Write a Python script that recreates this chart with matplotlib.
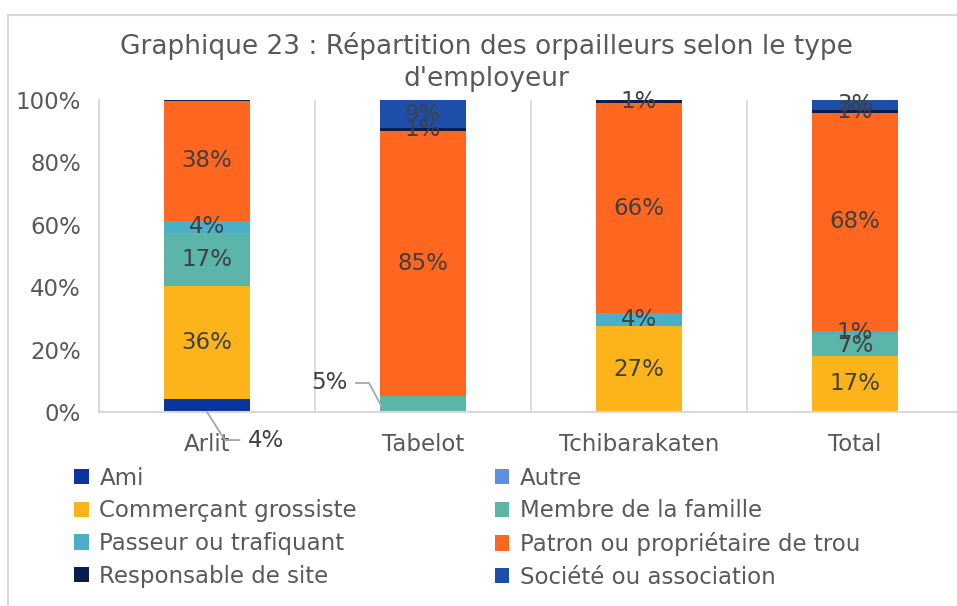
import numpy as np
import matplotlib
matplotlib.use("Agg")
import matplotlib.pyplot as plt
from matplotlib.patches import Rectangle

plt.rcParams['font.family'] = ['DejaVu Sans']

sites = ["Arlit", "Tabelot", "Tchibarakaten", "Total"]
series = ["Ami", "Autre", "Commerçant grossiste", "Membre de la famille",
          "Passeur ou trafiquant", "Patron ou propriétaire de trou",
          "Responsable de site", "Société ou association"]
ami = [4, 0, 0, 0.4]
autre = [0, 0, 0, 0]
commercant = [36, 0, 27, 17]
membre = [17, 5, 0, 7]
passeur = [4, 0, 4, 1]
patron = [38, 85, 66, 68]
responsable = [0.4, 1, 1, 1]
societe = [0, 9, 0, 3]
colors = ["#0A35A0", "#5B8FE0", "#FDB41A", "#5BB5A9",
          "#4AB0C8", "#FF661F", "#0B1D4D", "#1D4FAA"]

values = [ami, autre, commercant, membre, passeur, patron, responsable, societe]
totals = np.sum(np.array(values, dtype=float), axis=0)

FS = 16.5
fig = plt.figure(figsize=(9.57, 6.06), dpi=100)
fig.patches.append(Rectangle((0.008, -0.01), 1.0, 0.985, transform=fig.transFigure,
                             fill=False, edgecolor="#d9d9d9", linewidth=1.5))
ax = fig.add_axes([99 / 957, 1 - 412 / 606, 864 / 957, 312 / 606])

x = np.arange(len(sites))
bottom = np.zeros(len(sites))
handles = []
for name, vals, col in zip(series, values, colors):
    raw = np.array(vals, dtype=float)
    v = raw / totals * 100
    b = ax.bar(x, v, 0.4, bottom=bottom, color=col, label=name, zorder=2)
    handles.append(b)
    for i in range(len(sites)):
        if raw[i] < 0.5:
            continue
        lbl = "%d%%" % raw[i]
        yc = bottom[i] + v[i] / 2
        if name == "Ami" and i == 0:
            ax.plot([x[i], x[i] + 0.083, x[i] + 0.15], [0, -9, -9],
                    color="#a6a6a6", lw=1.3, clip_on=False, zorder=3)
            ax.text(x[i] + 0.19, -9, lbl, ha="left", va="center", fontsize=FS,
                    color="#404040", clip_on=False)
        elif name == "Membre de la famille" and i == 1:
            ax.plot([x[i] - 0.31, x[i] - 0.25, x[i] - 0.19], [9.3, 9.3, 1.6],
                    color="#a6a6a6", lw=1.3, clip_on=False, zorder=3)
            ax.text(x[i] - 0.35, 9.3, lbl, ha="right", va="center", fontsize=FS,
                    color="#404040")
        else:
            ax.text(x[i], yc, lbl, ha="center", va="center", fontsize=FS,
                    color="#404040", zorder=3)
    bottom += v

ax.set_xlim(-0.5, 3.5)
ax.set_ylim(0, 100)
ax.set_yticks(range(0, 101, 20))
ax.set_yticklabels(["%d%%" % t for t in range(0, 101, 20)])
ax.set_xticks(x)
ax.set_xticklabels(sites)
ax.tick_params(axis="both", length=0, labelsize=FS, colors="#595959")
ax.tick_params(axis="x", pad=15)
ax.tick_params(axis="y", pad=13)
for s in ["top", "right"]:
    ax.spines[s].set_visible(False)
for s in ["bottom", "left"]:
    ax.spines[s].set_color("#d9d9d9")
    ax.spines[s].set_linewidth(1.5)
for sep in [0.5, 1.5, 2.5]:
    ax.axvline(sep, color="#d9d9d9", lw=1.3, zorder=1)

fig.text(0.508, 0.898, "Graphique 23 : Répartition des orpailleurs selon le type\nd'employeur",
         ha="center", va="center", fontsize=19, color="#595959", linespacing=1.3)

order = [0, 2, 4, 6, 1, 3, 5, 7]
fig.legend([handles[k] for k in order], [series[k] for k in order], ncol=2,
           loc="upper left", bbox_to_anchor=(0.068, 0.245), frameon=False,
           fontsize=FS, labelcolor="#595959", handlelength=0.65, handleheight=0.65,
           handletextpad=0.45, columnspacing=6.0, labelspacing=0.42,
           borderaxespad=0)

fig.savefig("out.png", dpi=100)
